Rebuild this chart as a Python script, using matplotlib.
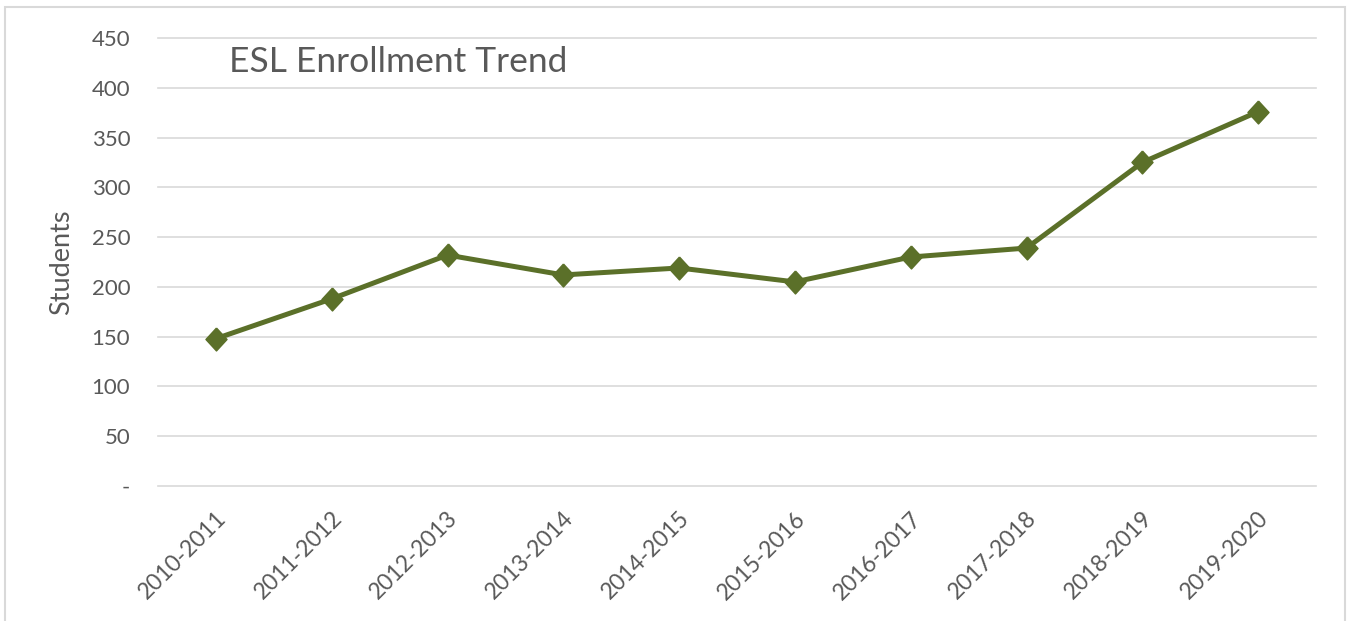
import matplotlib
matplotlib.use("Agg")
import matplotlib.pyplot as plt
import matplotlib.transforms as mtransforms
from matplotlib.patches import Rectangle

years = ["2010-2011", "2011-2012", "2012-2013", "2013-2014", "2014-2015",
         "2015-2016", "2016-2017", "2017-2018", "2018-2019", "2019-2020"]
students = [148, 188, 232, 212, 219, 205, 230, 239, 325, 376]
yticks = [0, 50, 100, 150, 200, 250, 300, 350, 400, 450]
ytick_labels = ["-", "50", "100", "150", "200", "250", "300", "350", "400", "450"]

plt.rcParams['font.family'] = ['Lato', 'DejaVu Sans']
TXT = "#595959"
LINE = "#5b7029"

fig = plt.figure(figsize=(13.5, 6.21), dpi=100)
W, H = 1350, 621
ax = fig.add_axes([158 / W, 1 - 486 / H, (1316 - 158) / W, (486 - 38) / H])

x = list(range(len(years)))
diamond = [(0, 1), (0.92, 0), (0, -1), (-0.92, 0), (0, 1)]
ax.plot(x, students, color=LINE, linewidth=3.6, marker=diamond,
        markersize=16.5, markerfacecolor=LINE, markeredgecolor=LINE, zorder=3)

ax.set_xlim(-0.5, len(years) - 0.5)
ax.set_ylim(0, 450)
ax.set_yticks(yticks)
ax.set_yticklabels(ytick_labels)
ax.set_xticks(x)
ax.set_xticklabels(years, rotation=45, ha='right', va='center', rotation_mode='anchor')
ax.tick_params(axis='y', length=0, pad=20, labelsize=16, labelcolor=TXT)
ax.tick_params(axis='x', length=0, pad=21, labelsize=16.5, labelcolor=TXT)
offset = mtransforms.ScaledTranslation(5 / 72, 0, fig.dpi_scale_trans)
for lab in ax.get_xticklabels():
    lab.set_transform(lab.get_transform() + offset)

ax.grid(axis='y', color='#d9d9d9', linewidth=1.2)
for gl in ax.get_ygridlines():
    gl.set_clip_on(False)
ax.set_axisbelow(True)
for s in ax.spines.values():
    s.set_visible(False)

ax.set_ylabel("Students", fontsize=19.5, color=TXT)
ax.yaxis.set_label_coords(-(158 - 74) / (1316 - 158), 0.5)

fig.text(229 / W, 1 - 62 / H, "ESL Enrollment Trend", fontsize=25.5, color=TXT,
         ha='left', va='center')

fig.patches.append(Rectangle((5 / W, -0.05), (1345 - 5) / W, 1 - 7 / H + 0.05,
                             transform=fig.transFigure, fill=False,
                             edgecolor='#d9d9d9', linewidth=1.5))

fig.savefig("out.png", dpi=100, facecolor='white')
